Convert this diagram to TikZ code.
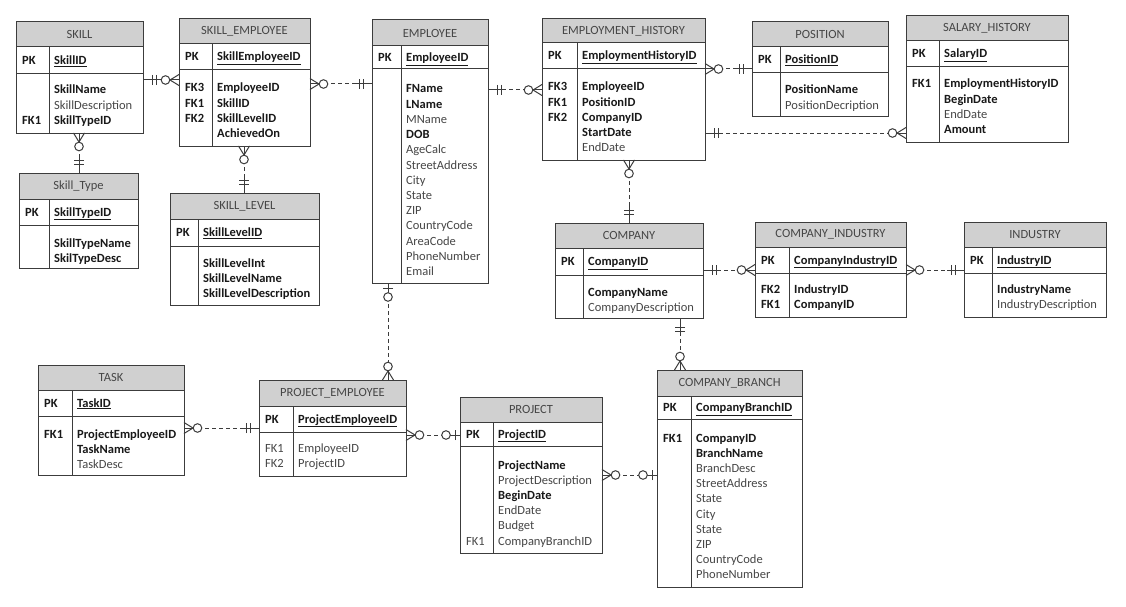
\documentclass[tikz,border=0pt]{standalone}
\usepackage{fontspec}
\setmainfont{Carlito}
\usetikzlibrary{calc}
\definecolor{linec}{RGB}{60,60,60}
\definecolor{hdrc}{RGB}{208,208,208}
\definecolor{txtc}{RGB}{70,70,70}
\definecolor{boldc}{RGB}{25,25,25}
\newcommand\bb[1]{{\color{boldc}\bfseries #1}}
\newcommand\erfont{\fontsize{12.5}{15}\selectfont}
% id, left, top, right, header bottom, pk bottom, bottom, divider x, title
\newcommand\entbox[9]{%
  \node[hdrbox, minimum width={(#4-#2)*1pt}, minimum height={(#5-#3)*1pt}] (#1-h) at (#2,#3) {#9};
  \node[tblbox, minimum width={(#4-#2)*1pt}, minimum height={(#7-#3)*1pt}] (#1) at (#2,#3) {};
  \draw[tline] (#2,#6) -- (#4,#6);
  \draw[tline] (#8,#5) -- (#8,#7);
}
% id, left, divider, y centre, key name
\newcommand\pkrow[5]{%
  \node[ktxt] (#1-pk) at ({#2+6},{#4+4}) {\bb{PK}};
  \node[ftxt] (#1-pkf) at ({#3+5},{#4+4}) {\bb{\underline{#5}}};
}
% id, key x, field x, first y centre, list key/field
\newcommand\rows[5]{%
  \foreach \k/\f [count=\i from 0] in {#5} {
    \node[ktxt] (#1-k\i) at ({#2},{#4+\i*15.2+4}) {\k};
    \node[ftxt] (#1-f\i) at ({#3},{#4+\i*15.2+4}) {\f};
  }%
}
\begin{document}
\begin{tikzpicture}[x=1pt,y=-1pt,
  hdrbox/.style={draw=linec, line width=1pt, fill=hdrc, anchor=north west, inner sep=0pt, outer sep=0pt, font=\erfont, text=txtc},
  tblbox/.style={draw=linec, line width=1pt, anchor=north west, inner sep=0pt, outer sep=0pt},
  tline/.style={draw=linec, line width=1pt},
  ktxt/.style={anchor=base west, inner sep=0pt, font=\erfont, text=txtc},
  ftxt/.style={anchor=base west, inner sep=0pt, font=\erfont, text=txtc},
  conn/.style={draw=linec, line width=1pt, dash pattern=on 4pt off 3pt},
  sym/.style={draw=linec, line width=1pt, solid},
  pics/one/.style={code={
    \draw[sym] (0,0) -- (17,0);
    \draw[sym] (9,-5) -- (9,5);
    \draw[sym] (13,-5) -- (13,5);}},
  pics/zmany/.style={code={
    \draw[sym] (0,-5.5) -- (9,0) -- (0,5.5);
    \draw[sym] (0,0) -- (9.2,0);
    \draw[sym, fill=white] (13.5,0) circle (4.3);}},
  pics/zone/.style={code={
    \draw[sym] (0,0) -- (9.7,0);
    \draw[sym] (5,-5) -- (5,5);
    \draw[sym, fill=white] (14,0) circle (4.3);}},
]
\fill[white] (0,0) rectangle (1126,607);
\useasboundingbox (0,0) rectangle (1126,607);

% ---------- entities ----------
\entbox{skill}{16}{22}{143}{47}{74}{133}{49}{SKILL}
\pkrow{skill}{16}{49}{60.5}{SkillID}
\rows{skill}{22}{54}{90}{/\bb{SkillName}, /SkillDescription, \bb{FK1}/\bb{SkillTypeID}}

\entbox{se}{179}{19}{310}{44}{70}{146}{212}{SKILL\_EMPLOYEE}
\pkrow{se}{179}{212}{57}{SkillEmployeeID}
\rows{se}{185}{217}{88}{\bb{FK3}/\bb{EmployeeID}, \bb{FK1}/\bb{SkillID}, \bb{FK2}/\bb{SkillLevelID}, /\bb{AchievedOn}}

\entbox{st}{19}{173}{138}{199}{225}{268}{49}{Skill\_Type}
\pkrow{st}{19}{49}{212}{SkillTypeID}
\rows{st}{25}{54}{243}{/\bb{SkillTypeName}, /\bb{SkilTypeDesc}}

\entbox{sl}{170}{193}{319}{219}{246}{305}{198}{SKILL\_LEVEL}
\pkrow{sl}{170}{198}{232.5}{SkillLevelID}
\rows{sl}{176}{203}{263}{/\bb{SkillLevelInt}, /\bb{SkillLevelName}, /\bb{SkillLevelDescription}}

\entbox{emp}{372}{20}{488}{46}{69}{283}{401}{EMPLOYEE}
\pkrow{emp}{372}{401}{57.5}{EmployeeID}
\rows{emp}{378}{406}{89}{/\bb{FName}, /\bb{LName}, /MName, /\bb{DOB}, /AgeCalc, /StreetAddress, /City, /State, /ZIP, /CountryCode, /AreaCode, /PhoneNumber, /Email}

\entbox{eh}{542}{19}{705}{43}{69}{160}{577}{EMPLOYMENT\_HISTORY}
\pkrow{eh}{542}{577}{56}{EmploymentHistoryID}
\rows{eh}{548}{582}{87}{\bb{FK3}/\bb{EmployeeID}, \bb{FK1}/\bb{PositionID}, \bb{FK2}/\bb{CompanyID}, /\bb{StartDate}, /EndDate}

\entbox{pos}{752}{22}{888}{47}{73}{117}{780}{POSITION}
\pkrow{pos}{752}{780}{60}{PositionID}
\rows{pos}{758}{785}{90}{/\bb{PositionName}, /PositionDecription}

\entbox{sh}{906}{16}{1068}{41}{67}{142}{939}{SALARY\_HISTORY}
\pkrow{sh}{906}{939}{54}{SalaryID}
\rows{sh}{912}{944}{84}{\bb{FK1}/\bb{EmploymentHistoryID}, /\bb{BeginDate}, /EndDate, /\bb{Amount}}

\entbox{comp}{555}{223}{703}{248}{275}{318}{583}{COMPANY}
\pkrow{comp}{555}{583}{261.5}{CompanyID}
\rows{comp}{561}{588}{292}{/\bb{CompanyName}, /CompanyDescription}

\entbox{ci}{755}{222}{906}{247}{273}{317}{789}{COMPANY\_INDUSTRY}
\pkrow{ci}{755}{789}{260}{CompanyIndustryID}
\rows{ci}{761}{794}{289}{\bb{FK2}/\bb{IndustryID}, \bb{FK1}/\bb{CompanyID}}

\entbox{ind}{964}{222}{1106}{247}{273}{317}{992}{INDUSTRY}
\pkrow{ind}{964}{992}{260}{IndustryID}
\rows{ind}{970}{997}{289}{/\bb{IndustryName}, /IndustryDescription}

\entbox{task}{38}{365}{184}{390}{416}{475}{72}{TASK}
\pkrow{task}{38}{72}{403}{TaskID}
\rows{task}{44}{77}{434}{\bb{FK1}/\bb{ProjectEmployeeID}, /\bb{TaskName}, /TaskDesc}

\entbox{pe}{259}{380}{406}{406}{432}{476}{293}{PROJECT\_EMPLOYEE}
\pkrow{pe}{259}{293}{419}{ProjectEmployeeID}
\rows{pe}{265}{298}{448}{FK1/EmployeeID, FK2/ProjectID}

\entbox{proj}{460}{397}{602}{422}{446}{553}{493}{PROJECT}
\pkrow{proj}{460}{493}{434}{ProjectID}
\rows{proj}{466}{498}{465}{/\bb{ProjectName}, /ProjectDescription, /\bb{BeginDate}, /EndDate, /Budget, FK1/CompanyBranchID}

\entbox{cb}{657}{370}{802}{396}{419}{587}{691}{COMPANY\_BRANCH}
\pkrow{cb}{657}{691}{407.5}{CompanyBranchID}
\rows{cb}{663}{696}{438}{\bb{FK1}/\bb{CompanyID}, /\bb{BranchName}, /BranchDesc, /StreetAddress, /State, /City, /State, /ZIP, /CountryCode, /PhoneNumber}

% ---------- relationships ----------
% SKILL - SKILL_EMPLOYEE
\draw[conn] (skill.east |- 0,80) -- (se.west |- 0,80);
\pic[rotate=0] at (skill.east |- 0,80) {one};
\pic[rotate=180] at (se.west |- 0,80) {zmany};
% SKILL - Skill_Type
\draw[conn] (skill.south -| 79,0) -- (st.north -| 79,0);
\pic[rotate=-90] at (skill.south -| 79,0) {zmany};
\pic[rotate=90] at (st.north -| 79,0) {one};
% SKILL_EMPLOYEE - SKILL_LEVEL
\draw[conn] (se.south -| 244,0) -- (sl.north -| 244,0);
\pic[rotate=-90] at (se.south -| 244,0) {zmany};
\pic[rotate=90] at (sl.north -| 244,0) {one};
% SKILL_EMPLOYEE - EMPLOYEE
\draw[conn] (se.east |- 0,84) -- (emp.west |- 0,84);
\pic[rotate=0] at (se.east |- 0,84) {zmany};
\pic[rotate=180] at (emp.west |- 0,84) {one};
% EMPLOYEE - EMPLOYMENT_HISTORY
\draw[conn] (emp.east |- 0,90) -- (eh.west |- 0,90);
\pic[rotate=0] at (emp.east |- 0,90) {one};
\pic[rotate=180] at (eh.west |- 0,90) {zmany};
% EMPLOYMENT_HISTORY - POSITION
\draw[conn] (eh.east |- 0,69) -- (pos.west |- 0,69);
\pic[rotate=0] at (eh.east |- 0,69) {zmany};
\pic[rotate=180] at (pos.west |- 0,69) {one};
% EMPLOYMENT_HISTORY - SALARY_HISTORY
\draw[conn] (eh.east |- 0,133) -- (sh.west |- 0,133);
\pic[rotate=0] at (eh.east |- 0,133) {one};
\pic[rotate=180] at (sh.west |- 0,133) {zmany};
% EMPLOYMENT_HISTORY - COMPANY
\draw[conn] (eh.south -| 629,0) -- (comp.north -| 629,0);
\pic[rotate=-90] at (eh.south -| 629,0) {zmany};
\pic[rotate=90] at (comp.north -| 629,0) {one};
% COMPANY - COMPANY_INDUSTRY
\draw[conn] (comp.east |- 0,270) -- (ci.west |- 0,270);
\pic[rotate=0] at (comp.east |- 0,270) {one};
\pic[rotate=180] at (ci.west |- 0,270) {zmany};
% COMPANY_INDUSTRY - INDUSTRY
\draw[conn] (ci.east |- 0,270) -- (ind.west |- 0,270);
\pic[rotate=0] at (ci.east |- 0,270) {zmany};
\pic[rotate=180] at (ind.west |- 0,270) {one};
% COMPANY - COMPANY_BRANCH
\draw[conn] (comp.south -| 680,0) -- (cb.north -| 680,0);
\pic[rotate=-90] at (comp.south -| 680,0) {one};
\pic[rotate=90] at (cb.north -| 680,0) {zmany};
% EMPLOYEE - PROJECT_EMPLOYEE
\draw[conn] (emp.south -| 388,0) -- (pe.north -| 388,0);
\pic[rotate=-90] at (emp.south -| 388,0) {zone};
\pic[rotate=90] at (pe.north -| 388,0) {zmany};
% TASK - PROJECT_EMPLOYEE
\draw[conn] (task.east |- 0,428) -- (pe.west |- 0,428);
\pic[rotate=0] at (task.east |- 0,428) {zmany};
\pic[rotate=180] at (pe.west |- 0,428) {one};
% PROJECT_EMPLOYEE - PROJECT
\draw[conn] (pe.east |- 0,435) -- (proj.west |- 0,435);
\pic[rotate=0] at (pe.east |- 0,435) {zmany};
\pic[rotate=180] at (proj.west |- 0,435) {zone};
% PROJECT - COMPANY_BRANCH
\draw[conn] (proj.east |- 0,475) -- (cb.west |- 0,475);
\pic[rotate=0] at (proj.east |- 0,475) {zmany};
\pic[rotate=180] at (cb.west |- 0,475) {zone};
\end{tikzpicture}
\end{document}
